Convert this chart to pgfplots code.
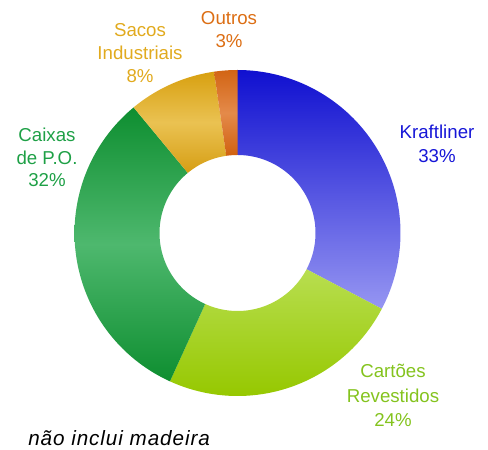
\documentclass[border=0pt]{standalone}
\usepackage{pgfplots}
\usepackage{pgfplotstable}
\usepackage{fontspec}
\setmainfont{Liberation Sans}
\pgfplotsset{compat=1.18}

\definecolor{txtK}{RGB}{22,22,215}
\definecolor{txtC}{RGB}{132,195,30}
\definecolor{txtP}{RGB}{30,160,70}
\definecolor{txtS}{RGB}{225,170,30}
\definecolor{txtO}{RGB}{220,110,20}

\pgfplotstableread{
label value
Kraftliner 32.7
Cartoes 24.1
Caixas 32.2
Sacos 8.7
Outros 2.3
}\shares

\pgfplotstablegetelem{0}{value}\of\shares \let\vA\pgfplotsretval
\pgfplotstablegetelem{1}{value}\of\shares \let\vB\pgfplotsretval
\pgfplotstablegetelem{2}{value}\of\shares \let\vC\pgfplotsretval
\pgfplotstablegetelem{3}{value}\of\shares \let\vD\pgfplotsretval
\pgfplotstablegetelem{4}{value}\of\shares \let\vE\pgfplotsretval
\pgfmathsetmacro\aA{90}
\pgfmathsetmacro\aB{\aA-3.6*\vA}
\pgfmathsetmacro\aC{\aB-3.6*\vB}
\pgfmathsetmacro\aD{\aC-3.6*\vC}
\pgfmathsetmacro\aE{\aD-3.6*\vD}
\pgfmathsetmacro\aF{\aE-3.6*\vE}

\def\cx{237.5}
\def\cy{216}
\def\Ro{163}
\def\Ri{78}

\newcommand\slice[3]{%
\addplot[#3, draw=none, variable=\t, samples at={0,1,...,80,200,201,...,280}]
 ({ (\t<150 ? \Ro : \Ri)*cos(\t<150 ? (#1+(#2-#1)*\t/80) : (#2-(#2-#1)*(\t-200)/80)) + \cx },
  { (\t<150 ? \Ro : \Ri)*sin(\t<150 ? (#1+(#2-#1)*\t/80) : (#2-(#2-#1)*(\t-200)/80)) + \cy }) -- cycle;
}

\begin{document}
\begin{tikzpicture}
\begin{axis}[
  scale only axis, width=366pt, height=336.75pt,
  xmin=0, xmax=488, ymin=0, ymax=449,
  hide axis, clip=false,
]
\path (axis cs:0,0) rectangle (axis cs:488,449);
\slice{\aA}{\aB}{top color={rgb,255:red,16;green,16;blue,208}, bottom color={rgb,255:red,150;green,150;blue,242}}
\slice{\aB}{\aC}{top color={rgb,255:red,184;green,222;blue,80}, bottom color={rgb,255:red,150;green,200;blue,0}}
\slice{\aC}{\aD}{top color={rgb,255:red,14;green,142;blue,48}, bottom color={rgb,255:red,14;green,142;blue,48}, middle color={rgb,255:red,78;green,184;blue,110}}
\slice{\aD}{\aE}{top color={rgb,255:red,216;green,160;blue,16}, bottom color={rgb,255:red,214;green,158;blue,20}, middle color={rgb,255:red,234;green,194;blue,82}}
\slice{\aE}{\aF}{top color={rgb,255:red,210;green,100;blue,20}, bottom color={rgb,255:red,208;green,96;blue,16}, middle color={rgb,255:red,228;green,138;blue,74}}

\begin{scope}[every node/.style={anchor=base, inner sep=0pt, font=\fontsize{14}{17}\selectfont}]
\node[txtO] at (axis cs:229,424) {Outros};
\node[txtO] at (axis cs:229,401) {3\%};
\node[txtS] at (axis cs:140,412) {Sacos};
\node[txtS] at (axis cs:140,389) {Industriais};
\node[txtS] at (axis cs:140,366) {8\%};
\node[txtP] at (axis cs:47,307) {Caixas};
\node[txtP] at (axis cs:47,284) {de P.O.};
\node[txtP] at (axis cs:47,262) {32\%};
\node[txtK] at (axis cs:437,310) {Kraftliner};
\node[txtK] at (axis cs:437,286) {33\%};
\node[txtC] at (axis cs:393,71) {Cartões};
\node[txtC] at (axis cs:393,46) {Revestidos};
\node[txtC] at (axis cs:393,22) {24\%};
\node[black, anchor=base west, font=\fontsize{15.5}{18}\selectfont\addfontfeature{LetterSpace=4.5}] at (axis cs:28,4) {\itshape não inclui madeira};
\end{scope}
\end{axis}
\end{tikzpicture}
\end{document}
